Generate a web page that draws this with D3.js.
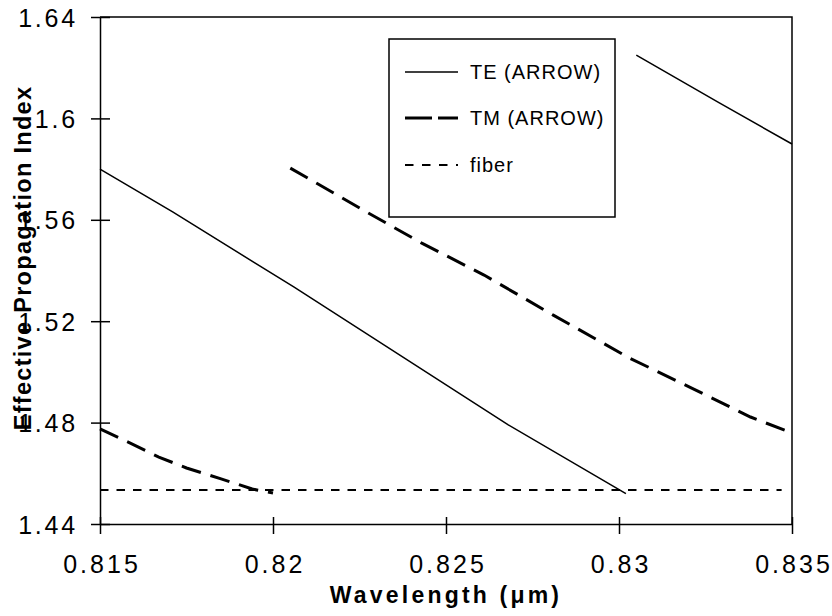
<!DOCTYPE html>
<html>
<head>
<meta charset="utf-8">
<script src="https://cdn.jsdelivr.net/npm/d3@7/dist/d3.min.js"></script>
<style>
  html, body { margin: 0; padding: 0; background: #fff; }
  svg { display: block; font-family: "Liberation Sans", Arial, Helvetica, sans-serif; }
</style>
</head>
<body>
<svg id="chart" width="832" height="616"></svg>
<script>
// Wavelength (µm) / effective index samples for each mode branch
const teBranch1 = [[0.815, 1.5800], [0.8171, 1.5631], [0.8206, 1.5335], [0.8268, 1.4791], [0.8302, 1.4520]];
const teBranch2 = [[0.8305, 1.6250], [0.8329, 1.6061], [0.835, 1.5899]];
const tmBranch1 = [[0.815, 1.4775], [0.8158, 1.4724], [0.8167, 1.4664], [0.8175, 1.4621],
                   [0.8185, 1.4578], [0.8194, 1.4538], [0.8200, 1.4522]];
const tmBranch2 = [[0.8205, 1.5804], [0.8227, 1.5631], [0.8243, 1.5508], [0.8261, 1.5382],
                   [0.8281, 1.5224], [0.8303, 1.5055], [0.8321, 1.4936], [0.8338, 1.4822], [0.835, 1.4759]];
const fiberLine = [[0.815, 1.4534], [0.8347, 1.4534]];

const xTicks = [0.815, 0.82, 0.825, 0.83, 0.835];
const xTickLabels = ["0.815", "0.82", "0.825", "0.83", "0.835"];
const yTicks = [1.44, 1.48, 1.52, 1.56, 1.6, 1.64];
const yTickLabels = ["1.44", "1.48", "1.52", "1.56", "1.6", "1.64"];

const legendItems = [
  { label: "TE (ARROW)", dash: null, width: 1.5 },
  { label: "TM (ARROW)", dash: "27,6,20", width: 3 },
  { label: "fiber", dash: "8.5,8.5", width: 2 }
];

const svg = d3.select("#chart");
const plotLeft = 100, plotRight = 792, plotTop = 17, plotBottom = 524;

const x = d3.scaleLinear().domain([0.815, 0.835]).range([plotLeft, plotRight]);
const y = d3.scaleLinear().domain([1.44, 1.64]).range([plotBottom, plotTop]);

// frame: top and right edges
svg.append("path")
  .attr("d", `M${plotLeft},${plotTop}H${plotRight}V${plotBottom}`)
  .attr("fill", "none").attr("stroke", "#000").attr("stroke-width", 1.5);

// y axis with ticks crossing the axis line
const yAxis = svg.append("g")
  .attr("transform", `translate(${plotLeft},0)`)
  .call(d3.axisLeft(y).tickValues(yTicks).tickSizeInner(9).tickSizeOuter(0).tickFormat((d, i) => yTickLabels[i]));
yAxis.select(".domain").attr("stroke-width", 1.5);
yAxis.selectAll(".tick line").attr("x1", -9).attr("x2", 10).attr("stroke-width", 1.5);
yAxis.selectAll(".tick text")
  .attr("x", -22).attr("dy", "0.36em")
  .style("font-size", "25px").style("letter-spacing", "2.8px")
  .attr("fill", "#000");

// x axis with crossing ticks
const xAxis = svg.append("g")
  .attr("transform", `translate(0,${plotBottom})`)
  .call(d3.axisBottom(x).tickValues(xTicks).tickSizeInner(10).tickSizeOuter(0).tickFormat((d, i) => xTickLabels[i]));
xAxis.select(".domain").attr("stroke-width", 1.5);
xAxis.selectAll(".tick line").attr("y1", -7).attr("y2", 10).attr("stroke-width", 1.5);
xAxis.selectAll(".tick text")
  .attr("y", 49).attr("dy", null).attr("dx", "1.5px")
  .style("font-size", "25px").style("letter-spacing", "3px")
  .attr("fill", "#000");

// axis titles
svg.append("text")
  .attr("x", (plotLeft + plotRight) / 2).attr("y", 603)
  .attr("text-anchor", "middle")
  .style("font-size", "23px").style("font-weight", "bold").style("letter-spacing", "3.2px")
  .text("Wavelength (μm)");

svg.append("text")
  .attr("transform", "translate(31,258) rotate(-90)")
  .attr("text-anchor", "middle")
  .style("font-size", "23.5px").style("font-weight", "bold").style("letter-spacing", "1.3px")
  .text("Effective Propagation Index");

// data curves
const line = d3.line().x(d => x(d[0])).y(d => y(d[1]));
const plot = svg.append("g").attr("fill", "none").attr("stroke", "#000");

[teBranch1, teBranch2].forEach(seg =>
  plot.append("path").datum(seg).attr("d", line).attr("stroke-width", 1.5));
[tmBranch1, tmBranch2].forEach(seg =>
  plot.append("path").datum(seg).attr("d", line)
    .attr("stroke-width", 3).attr("stroke-dasharray", "20,10"));
plot.append("path").datum(fiberLine).attr("d", line)
  .attr("stroke-width", 2).attr("stroke-dasharray", "8.5,8");

// legend
const legend = svg.append("g");
legend.append("rect")
  .attr("x", 389).attr("y", 39).attr("width", 226).attr("height", 178)
  .attr("fill", "#fff").attr("stroke", "#000").attr("stroke-width", 1.5);

const rowY = [72, 118, 165];
legendItems.forEach((item, i) => {
  legend.append("line")
    .attr("x1", 405).attr("x2", 458).attr("y1", rowY[i]).attr("y2", rowY[i])
    .attr("stroke", "#000").attr("stroke-width", item.width)
    .attr("stroke-dasharray", item.dash);
  legend.append("text")
    .attr("x", 470).attr("y", rowY[i] + 7)
    .style("font-size", "20px").style("letter-spacing", "1px")
    .attr("fill", "#000")
    .text(item.label);
});
</script>
</body>
</html>
